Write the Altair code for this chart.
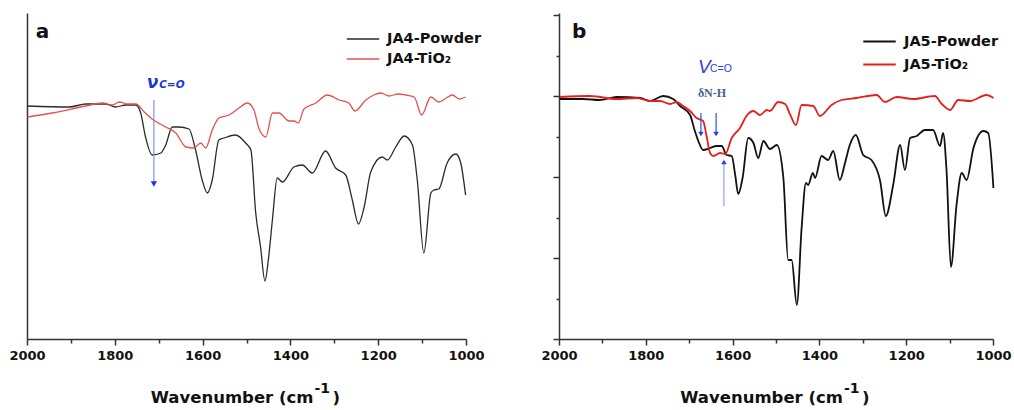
import altair as alt
import pandas as pd

FONT = "DejaVu Sans"

# ---------------- Panel a : JA4 ----------------
a_names = ["JA4-Powder", "JA4-TiO\u2082"]
a_powder_wn = [1999, 1904, 1866, 1821, 1798, 1775, 1752, 1741, 1730, 1715, 1695, 1684, 1669, 1654, 1631,
               1616, 1601, 1589, 1578, 1563, 1551, 1525, 1502, 1490, 1479, 1468, 1458, 1450, 1441, 1430,
               1418, 1392, 1373, 1350, 1320, 1297, 1274, 1259, 1245, 1232, 1217, 1191, 1179, 1160, 1141,
               1122, 1111, 1096, 1080, 1073, 1062, 1043, 1023, 1012, 1001]
a_powder_t = [233, 232, 235, 235, 232, 234, 234, 226, 202, 184, 186, 194, 212, 212, 210,
              189, 159, 146, 159, 199, 201, 204, 196, 189, 126, 92, 58, 80, 119, 161,
              157, 172, 174, 166, 188, 171, 164, 139, 115, 132, 167, 182, 179, 192, 203,
              194, 159, 86, 146, 149, 150, 176, 185, 176, 144]
a_tio2_wn = [1999, 1942, 1866, 1828, 1805, 1790, 1770, 1752, 1733, 1715, 1684, 1661, 1638, 1620, 1604,
             1593, 1578, 1563, 1540, 1517, 1498, 1483, 1472, 1456, 1441, 1426, 1403, 1392, 1382, 1369,
             1342, 1316, 1289, 1267, 1253, 1228, 1210, 1194, 1175, 1155, 1137, 1118, 1101, 1080, 1062,
             1045, 1031, 1015, 1001]
a_tio2_t = [222, 226, 233, 236, 234, 237, 235, 235, 227, 220, 212, 206, 192, 191, 196,
            191, 209, 221, 224, 231, 236, 229, 211, 202, 226, 226, 218, 218, 216, 230,
            236, 244, 239, 236, 228, 239, 244, 246, 243, 245, 244, 242, 224, 242, 237,
            241, 244, 240, 242]

# ---------------- Panel b : JA5 ----------------
b_names = ["JA5-Powder", "JA5-TiO\u2082"]
b_powder_wn = [1998, 1944, 1906, 1867, 1813, 1790, 1760, 1737, 1721, 1698, 1687, 1679, 1668, 1652, 1637,
               1625, 1614, 1602, 1594, 1587, 1577, 1564, 1552, 1541, 1529, 1514, 1498, 1483, 1472, 1464,
               1452, 1441, 1431, 1426, 1415, 1410, 1395, 1380, 1368, 1353, 1341, 1330, 1316, 1299, 1280,
               1260, 1247, 1230, 1214, 1203, 1191, 1176, 1157, 1138, 1122, 1115, 1107, 1097, 1084, 1072,
               1061, 1045, 1022, 1011, 999]
b_powder_t = [240, 240, 239, 242, 241, 238, 243, 240, 233, 224, 208, 198, 189, 191, 193,
              193, 184, 183, 164, 145, 161, 201, 196, 181, 198, 190, 194, 161, 79, 79,
              34, 111, 156, 154, 166, 161, 183, 179, 188, 159, 176, 194, 204, 184, 179,
              158, 123, 154, 194, 169, 201, 203, 209, 209, 193, 206, 168, 72, 134, 166,
              159, 191, 208, 206, 151]
b_tio2_wn = [1998, 1929, 1867, 1821, 1790, 1767, 1744, 1729, 1714, 1698, 1683, 1668, 1660, 1652, 1644,
             1629, 1617, 1602, 1583, 1568, 1552, 1537, 1521, 1514, 1495, 1479, 1468, 1454, 1441, 1414,
             1399, 1372, 1349, 1314, 1268, 1249, 1222, 1184, 1134, 1118, 1099, 1080, 1053, 1015, 999]
b_tio2_t = [242, 243, 240, 241, 238, 238, 235, 237, 233, 228, 221, 218, 203, 186, 183,
            186, 185, 201, 211, 223, 228, 224, 229, 228, 237, 235, 225, 214, 234, 233,
            223, 234, 239, 241, 244, 237, 242, 240, 243, 235, 229, 239, 238, 244, 241]

x_ticks = list(range(1000, 2001, 100))
b_y_ticks = [0, 40.5, 81, 121.5, 162, 202.5, 243, 283.5, 324]

W_A, W_B, H = 439, 434, 326


def xenc():
    return alt.X("wn:Q", scale=alt.Scale(domain=[2000, 1000], nice=False, zero=False),
                 axis=alt.Axis(values=x_ticks, format="d",
                               labelExpr="datum.value % 200 === 0 ? datum.label : ''",
                               tickSize={"condition": {"test": "datum.value % 200 === 0", "value": 6}, "value": 4},
                               tickColor="#333333", tickWidth=1.5, domainColor="#333333", domainWidth=1.5,
                               labelFont=FONT, labelFontSize=13, labelFontWeight="bold", labelColor="#111111",
                               labelPadding=4, labelOverlap=False, labelFlush=False, grid=False, title=None))


def yenc(field, panel):
    if panel == "a":
        ax = alt.Axis(labels=False, ticks=False, grid=False, title=None,
                      domainColor="#333333", domainWidth=1.5)
    else:
        ax = alt.Axis(values=b_y_ticks, labels=False, grid=False, title=None,
                      tickSize={"condition": {"test": "datum.value % 81 === 0", "value": 6}, "value": 3},
                      tickColor="#333333", tickWidth=1.5, domainColor="#333333", domainWidth=1.5)
    return alt.Y(field, scale=alt.Scale(domain=[0, H], nice=False, zero=False), axis=ax)


def spectra(names, wn_p, t_p, wn_t, t_t, colors, sw, legx, legy, cliph, rowpad):
    df = pd.concat([
        pd.DataFrame({"wn": wn_p, "t": t_p, "sample": names[0]}),
        pd.DataFrame({"wn": wn_t, "t": t_t, "sample": names[1]}),
    ])
    return alt.Chart(df).mark_line(strokeWidth=sw, interpolate="monotone").encode(
        x=xenc(),
        y=yenc("t:Q", "a" if names[0].startswith("JA4") else "b"),
        color=alt.Color("sample:N", sort=names,
                        scale=alt.Scale(domain=names, range=colors),
                        legend=alt.Legend(orient="none", legendX=legx, legendY=legy, title=None,
                                          symbolType="stroke", symbolSize=1050, symbolStrokeWidth=sw,
                                          labelFont=FONT, labelFontSize=14.5, labelFontWeight="bold",
                                          labelColor="#111111", labelOffset=7, clipHeight=cliph,
                                          rowPadding=rowpad, padding=0)),
        detail="sample:N",
    )


def text_layer(panel, wn, t, txt, **kw):
    df = pd.DataFrame({"wn": [wn], "t": [t], "txt": [txt]})
    return alt.Chart(df).mark_text(align="left", baseline="alphabetic", **kw).encode(
        x=xenc(), y=yenc("t:Q", panel), text="txt:N")


def arrow_lines(panel, wn, t1, t2, color, sw):
    df = pd.DataFrame({"wn": wn, "t1": t1, "t2": t2})
    return alt.Chart(df).mark_rule(color=color, strokeWidth=sw).encode(
        x=xenc(), y=yenc("t1:Q", panel), y2="t2:Q")


def arrow_heads(panel, wn, t, shape, color, size):
    df = pd.DataFrame({"wn": wn, "t": t})
    return alt.Chart(df).mark_point(shape=shape, filled=True, color=color, size=size, opacity=1).encode(
        x=xenc(), y=yenc("t:Q", panel))


def axis_title(w):
    t1 = alt.Chart(pd.DataFrame({"s": ["Wavenumber (cm"]})).mark_text(
        align="right", baseline="alphabetic", font=FONT, fontSize=16.5, fontWeight="bold", color="#111111"
    ).encode(x=alt.value(w / 2 + 67), y=alt.value(390), text="s:N")
    t2 = alt.Chart(pd.DataFrame({"s": ["-1"]})).mark_text(
        align="left", baseline="alphabetic", font=FONT, fontSize=14, fontWeight="bold", color="#111111"
    ).encode(x=alt.value(w / 2 + 68), y=alt.value(380), text="s:N")
    t3 = alt.Chart(pd.DataFrame({"s": [")"]})).mark_text(
        align="left", baseline="alphabetic", font=FONT, fontSize=16.5, fontWeight="bold", color="#111111"
    ).encode(x=alt.value(w / 2 + 86), y=alt.value(390), text="s:N")
    return [t1, t2, t3]


# ----- panel a -----
pa = alt.layer(
    spectra(a_names, a_powder_wn, a_powder_t, a_tio2_wn, a_tio2_t, ["#2b2b2b", "#e5504c"], 1.3,
            319, 16, 20, 0),
    arrow_lines("a", [1711], [239], [156], "#7f93ef", 1.2),
    arrow_heads("a", [1711], [155], "triangle-down", "#1a35d8", 40),
    text_layer("a", 1727, 251, "\u03bd", font=FONT, fontSize=17, fontWeight="bold", fontStyle="italic",
               color="#1a35d8"),
    text_layer("a", 1699, 251, "C=O", font=FONT, fontSize=10.5, fontWeight="bold", fontStyle="italic",
               color="#1a35d8"),
    text_layer("a", 1980, 301, "a", font=FONT, fontSize=20, fontWeight="bold", color="#111111"),
    *axis_title(W_A),
).properties(width=W_A, height=H)

# ----- panel b -----
pb = alt.layer(
    spectra(b_names, b_powder_wn, b_powder_t, b_tio2_wn, b_tio2_t, ["#111111", "#e3201c"], 1.8,
            303, 18, 21, 2),
    arrow_lines("b", [1673, 1638], [226, 226], [206, 206], "#3050e0", 1.2),
    arrow_heads("b", [1673, 1638], [205, 205], "triangle-down", "#2040e0", 30),
    arrow_lines("b", [1620], [133], [176], "#8fa0f0", 1.2),
    arrow_heads("b", [1620], [177], "triangle-up", "#2040e0", 30),
    text_layer("b", 1680, 266, "V", font="Liberation Sans", fontSize=19, fontStyle="italic",
               color="#2d3fe0"),
    text_layer("b", 1652, 267, "C=O", font="Liberation Sans", fontSize=10.5, color="#2d3fe0"),
    text_layer("b", 1680, 242, "\u03b4N-H", font="Liberation Serif", fontSize=12, fontWeight="bold",
               color="#4b5f86"),
    text_layer("b", 1970, 301, "b", font=FONT, fontSize=20, fontWeight="bold", color="#111111"),
    *axis_title(W_B),
).properties(width=W_B, height=H)

chart = alt.hconcat(pa, pb, spacing=55).resolve_scale(
    color="independent", x="independent", y="independent"
).properties(
    padding={"left": 8, "top": 13, "right": 0, "bottom": 0}, background="white"
).configure_view(stroke=None)

chart.save("out.html", embed_options={"renderer": "svg", "actions": False})
